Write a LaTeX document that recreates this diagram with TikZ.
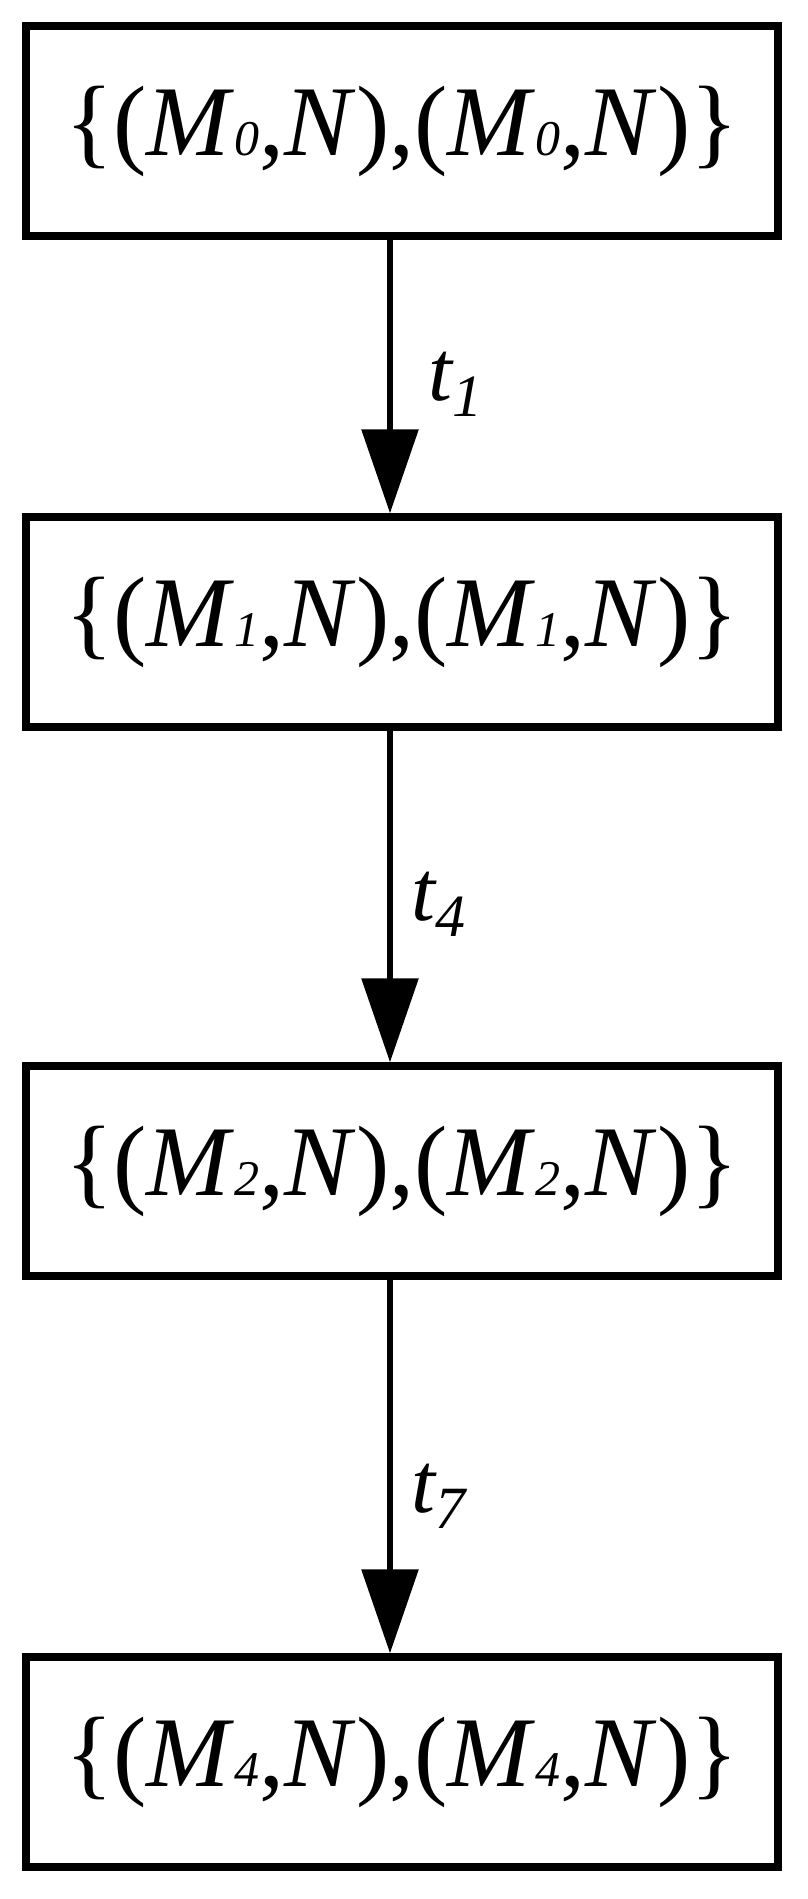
\documentclass[tikz,border=0pt]{standalone}
\usepackage{fontspec}
\setmainfont{Liberation Serif}
\usetikzlibrary{arrows.meta}
\begin{document}
\begin{tikzpicture}[x=1pt,y=1pt,
  box/.style={draw,line width=7.5pt,minimum width=752pt,minimum height=210pt,inner sep=0pt,font=\fontsize{100}{100}\selectfont},
  arr/.style={line width=6pt,-{Triangle[length=84pt,width=56pt]}},
  lab/.style={font=\fontsize{86}{86}\selectfont\itshape,anchor=west}]
\useasboundingbox (0,0) rectangle (808,-1899);
\newcommand{\mysb}[1]{{\fontsize{50}{50}\selectfont\itshape #1}}
\newcommand{\myst}[1]{\raisebox{-16pt}{\fontsize{60}{60}\selectfont\itshape #1}}
\newcommand{\mylbl}[1]{\{(\textit{M}\mysb{#1},\textit{N}),(\textit{M}\mysb{#1},\textit{N})\}}
\node[box] (b1) at (402,-131) {\mylbl{0}};
\node[box] (b2) at (402,-622) {\mylbl{1}};
\node[box] (b3) at (402,-1171) {\mylbl{2}};
\node[box] (b4) at (402,-1762) {\mylbl{4}};
\coordinate (ax) at (390,0);
\draw[arr] (b1.south -| ax) -- (b2.north -| ax) node[lab,midway,xshift=32pt,yshift=-8pt] (l1) {t\myst{1}};
\draw[arr] (b2.south -| ax) -- (b3.north -| ax) node[lab,midway,xshift=15pt,yshift=-8pt] (l2) {t\myst{4}};
\draw[arr] (b3.south -| ax) -- (b4.north -| ax) node[lab,midway,xshift=15pt,yshift=-30pt] (l3) {t\myst{7}};
\end{tikzpicture}
\end{document}
